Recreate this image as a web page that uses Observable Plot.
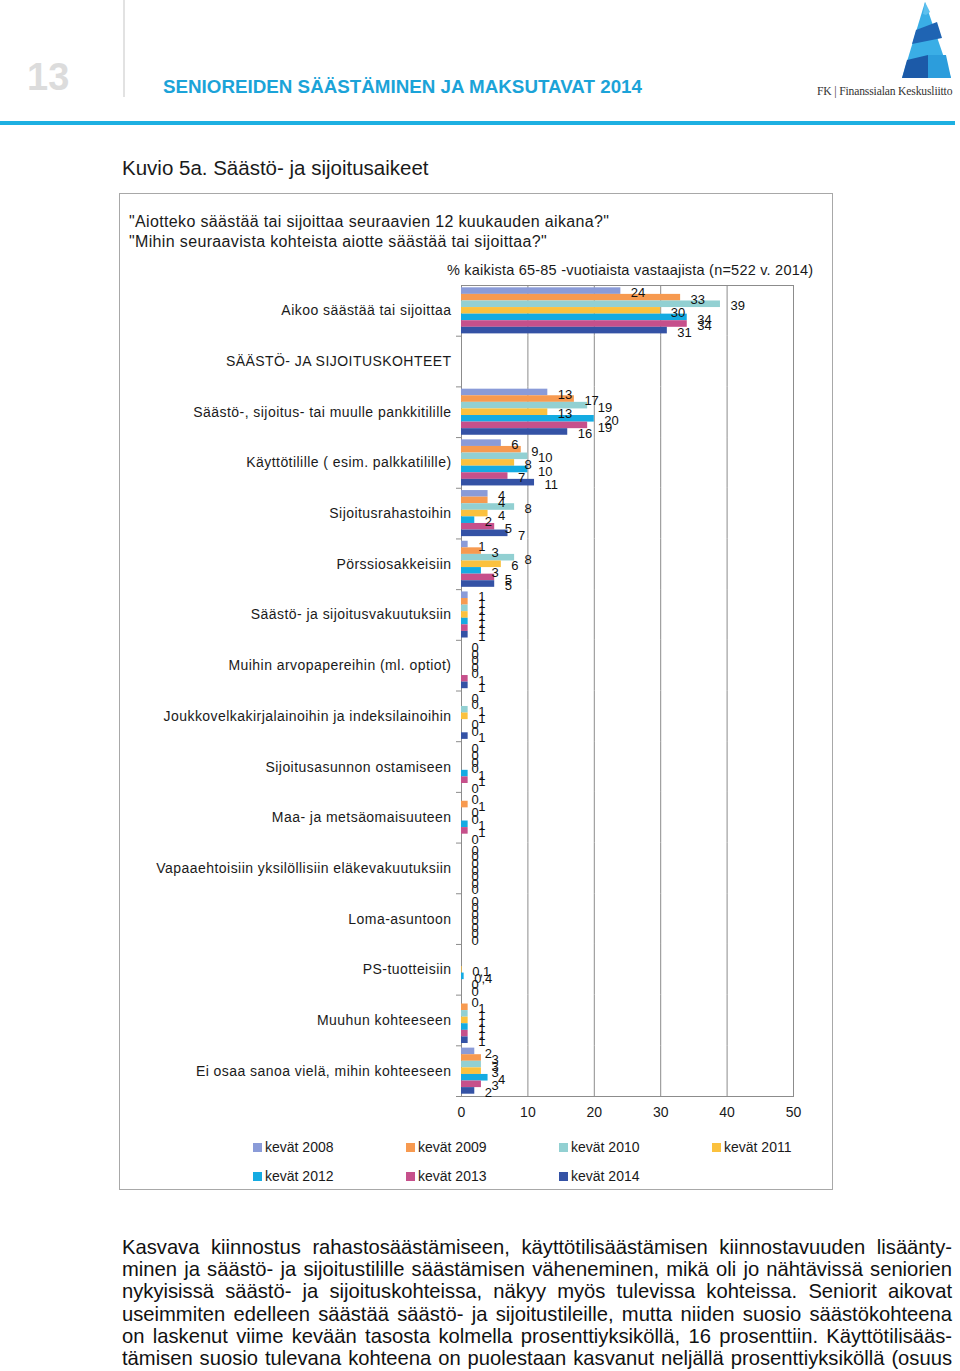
<!DOCTYPE html>
<html><head><meta charset="utf-8">
<script src="https://cdn.jsdelivr.net/npm/d3@7"></script>
<script src="https://cdn.jsdelivr.net/npm/@observablehq/plot@0.6"></script>
<style>
body{margin:0;background:#fff;}
#page{position:relative;width:960px;height:1371px;overflow:hidden;font-family:"Liberation Sans",Arial,sans-serif;color:#1a1a1a;}
.abs{position:absolute;white-space:nowrap;}
#pnum{left:27px;top:56px;font-size:38px;font-weight:bold;color:#dcdcdc;}
#vline{left:123px;top:0;width:2px;height:97px;background:#e2e2e2;}
#title{left:163px;top:76px;font-size:18.8px;font-weight:bold;color:#1ba3d8;}
#logotext{left:817px;top:85px;font-family:"Liberation Serif",serif;font-size:11.6px;color:#333;letter-spacing:-0.15px;}
#bar{left:0;top:121px;width:955px;height:4px;background:#1db0e2;}
#kuvio{left:122px;top:156px;font-size:20.5px;color:#1a1a1a;}
#box{left:119px;top:193px;width:712px;height:995px;border:1.5px solid #a8a8a8;}
.q{left:129px;font-size:16px;letter-spacing:0.35px;color:#1a1a1a;}
#unit{left:447px;top:262px;font-size:14.5px;letter-spacing:0.22px;color:#1a1a1a;}
#chart{left:120px;top:285px;line-height:0;}
#chart svg{display:block;}
#chart g[aria-label="fy-axis tick label"] text{letter-spacing:0.45px;}
#legend{left:253px;top:1139px;width:620px;}
#legend span{width:153px !important;margin-right:0 !important;margin-bottom:13px;font-size:14px !important;font-family:"Liberation Sans",Arial,sans-serif !important;color:#1a1a1a;}
#legend svg{margin-right:3px !important;}
#legend div{font-size:14px !important;font-family:"Liberation Sans",Arial,sans-serif !important;}
#para{left:122px;top:1236px;width:830px;font-size:20.2px;line-height:22.2px;color:#111;}
#para div{text-align:justify;text-align-last:justify;white-space:nowrap;}
</style></head><body>
<div id="page">
  <div class="abs" id="pnum">13</div>
  <div class="abs" id="vline"></div>
  <div class="abs" id="title">SENIOREIDEN SÄÄSTÄMINEN JA MAKSUTAVAT 2014</div>
  <svg class="abs" style="left:890px;top:0px" width="70" height="82" viewBox="0 0 70 82">
    <polygon points="35,2 61,78 12,78" fill="#3aaee6"/>
    <polygon points="26,30 47,22 52,38 22,44" fill="#1f64b3"/>
    <polygon points="17,60 38,55 38,78 12,78" fill="#1c5aa8"/>
    <polygon points="38,55 56,55 61,78 38,78" fill="#2c9ddc"/>
    <polygon points="35,2 40,12 36,15 33,14" fill="#5dc0ee"/>
  </svg>
  <div class="abs" id="logotext">FK | Finanssialan Keskusliitto</div>
  <div class="abs" id="bar"></div>
  <div class="abs" id="kuvio">Kuvio 5a. Säästö- ja sijoitusaikeet</div>
  <div class="abs" id="box"></div>
  <div class="abs q" style="top:213px">"Aiotteko säästää tai sijoittaa seuraavien 12 kuukauden aikana?"</div>
  <div class="abs q" style="top:233px">"Mihin seuraavista kohteista aiotte säästää tai sijoittaa?"</div>
  <div class="abs" id="unit">% kaikista 65-85 -vuotiaista vastaajista (n=522 v. 2014)</div>
  <div class="abs" id="chart"></div>
  <div class="abs" id="legend"></div>
  <div class="abs" id="para">
    <div>Kasvava kiinnostus rahastosäästämiseen, käyttötilisäästämisen kiinnostavuuden lisäänty-</div>
    <div>minen ja säästö- ja sijoitustilille säästämisen väheneminen, mikä oli jo nähtävissä seniorien</div>
    <div>nykyisissä säästö- ja sijoituskohteissa, näkyy myös tulevissa kohteissa. Seniorit aikovat</div>
    <div>useimmiten edelleen säästää säästö- ja sijoitustileille, mutta niiden suosio säästökohteena</div>
    <div>on laskenut viime kevään tasosta kolmella prosenttiyksiköllä, 16 prosenttiin. Käyttötilisääs-</div>
    <div>tämisen suosio tulevana kohteena on puolestaan kasvanut neljällä prosenttiyksiköllä (osuus</div>
  </div>
</div>
<script>
const categories = [
  "Aikoo säästää tai sijoittaa",
  "SÄÄSTÖ- JA SIJOITUSKOHTEET",
  "Säästö-, sijoitus- tai muulle pankkitilille",
  "Käyttötilille ( esim. palkkatilille)",
  "Sijoitusrahastoihin",
  "Pörssiosakkeisiin",
  "Säästö- ja sijoitusvakuutuksiin",
  "Muihin arvopapereihin (ml. optiot)",
  "Joukkovelkakirjalainoihin ja indeksilainoihin",
  "Sijoitusasunnon ostamiseen",
  "Maa- ja metsäomaisuuteen",
  "Vapaaehtoisiin yksilöllisiin eläkevakuutuksiin",
  "Loma-asuntoon",
  "PS-tuotteisiin",
  "Muuhun kohteeseen",
  "Ei osaa sanoa vielä, mihin kohteeseen"
];
const years = ["kevät 2008","kevät 2009","kevät 2010","kevät 2011","kevät 2012","kevät 2013","kevät 2014"];
const colors = ["#8a9bd8","#f79a50","#92d0d2","#fbc13e","#14abe2","#c6508b","#3452a5"];
const v2008 = [24, null, 13, 6, 4, 1, 1, 0, 0, 0, 0, 0, 0, null, 0, 2];
const v2009 = [33, null, 17, 9, 4, 3, 1, 0, 0, 0, 1, 0, 0, null, 1, 3];
const v2010 = [39, null, 19, 10, 8, 8, 1, 0, 1, 0, 0, 0, 0, null, 1, 3];
const v2011 = [30, null, 13, 8, 4, 6, 1, 0, 1, 0, 0, 0, 0, 0.1, 1, 3];
const v2012 = [34, null, 20, 10, 2, 3, 1, 0, 0, 1, 1, 0, 0, 0.4, 1, 4];
const v2013 = [34, null, 19, 7, 5, 5, 1, 1, 0, 1, 1, 0, 0, 0, 1, 3];
const v2014 = [31, null, 16, 11, 7, 5, 1, 1, 1, 0, 0, 0, 0, 0, 1, 2];
const xTicks = [0, 10, 20, 30, 40, 50];

const series = [v2008, v2009, v2010, v2011, v2012, v2013, v2014];
const data = [];
years.forEach((yr, j) => series[j].forEach((v, i) => {
  if (v != null) data.push({cat: categories[i], year: yr, value: v});
}));
const fmt = v => String(v).replace(".", ",");

const chart = Plot.plot({
  width: 703, height: 837,
  marginLeft: 341, marginRight: 30, marginTop: 0, marginBottom: 26,
  style: {fontFamily: "Liberation Sans, Arial, sans-serif", fontSize: "14px", color: "#1a1a1a", background: "transparent"},
  x: {domain: [0, 50], ticks: xTicks, tickSize: 0, tickPadding: 11, label: null},
  y: {domain: years, paddingInner: 0, paddingOuter: 0.35, round: false, axis: null},
  fy: {domain: categories, padding: 0, round: false, label: null, axis: null},
  color: {domain: years, range: colors},
  marks: [
    Plot.axisFy({anchor: "left", tickSize: 0, tickPadding: 10, label: null, fontSize: 14}),
    Plot.ruleX(xTicks.filter(d => d > 0), {stroke: "#8c8c8c"}),
    Plot.frame({facet: "super", stroke: "#8c8c8c"}),
    Plot.frame({anchor: "bottom", stroke: "#8c8c8c", insetLeft: -5, insetRight: 332}),
    Plot.ruleX(categories, {fy: d => d, x: () => 0, stroke: "#8c8c8c"}),
    Plot.barX(data, {x: "value", y: "year", fy: "cat", fill: "year"}),
    Plot.text(data, {x: "value", y: "year", fy: "cat", text: d => fmt(d.value), textAnchor: "start", dx: 10, dy: 2, fontSize: 13, fill: "#111"})
  ]
});
document.getElementById("chart").appendChild(chart);

const legend = Plot.legend({
  color: {domain: years, range: colors},
  legend: "swatches", swatchSize: 9,
  style: {fontSize: "14px", fontFamily: "Liberation Sans, Arial, sans-serif", color: "#1a1a1a"}
});
document.getElementById("legend").appendChild(legend);
</script>
</body></html>
